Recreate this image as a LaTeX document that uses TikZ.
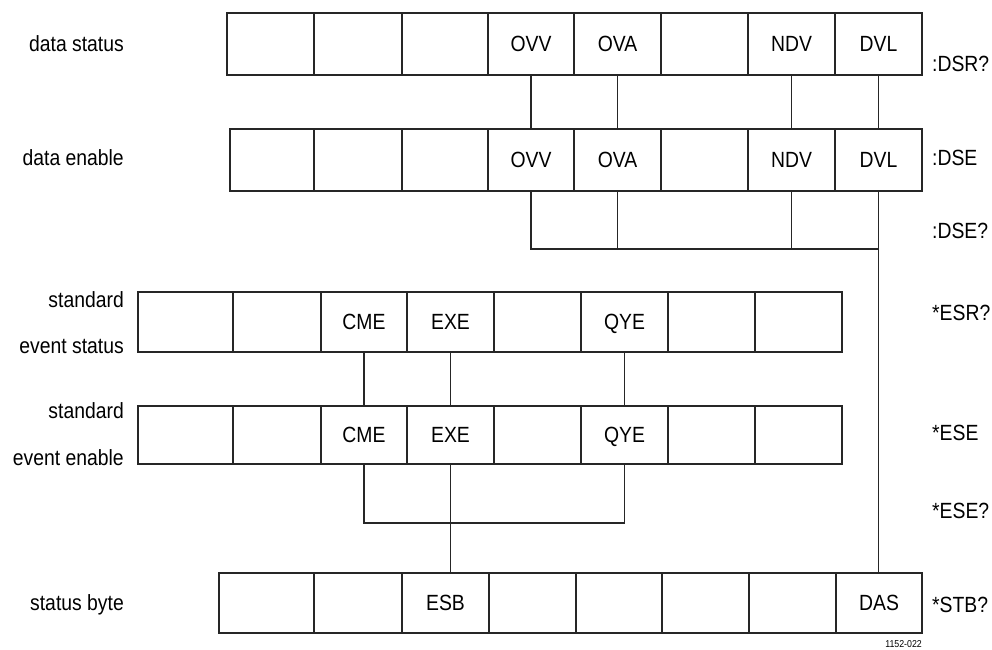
\documentclass[tikz,border=0pt]{standalone}
\usepackage{fontspec}
\setmainfont{Liberation Sans}[FakeStretch=0.88]
\begin{document}
\begin{tikzpicture}[x=1pt,y=-1pt,
  cell/.style={draw=black!85, line width=2.2pt, inner sep=0pt, outer sep=0pt,
    font=\fontsize{22}{24}\selectfont, text height=15.7pt, text depth=0pt},
  link/.style={draw=black!85, line width=1.2pt},
  lbl/.style={font=\fontsize{22}{24}\selectfont, inner sep=0pt, anchor=base east},
  cmd/.style={font=\fontsize{22}{24}\selectfont, inner sep=0pt, anchor=base west},
  tiny/.style={font=\fontsize{10}{12}\selectfont, inner sep=0pt, anchor=base east}]
\useasboundingbox (0,0) rectangle (992,649);

% register 1: data status
\foreach \a/\b/\t [count=\i] in {227/314/{},314/402/{},402/488/{},488/574/OVV,574/661/OVA,661/748/{},748/835/NDV,835/922/DVL}
  \node[cell, minimum width={\b-\a}, minimum height=62] (r1c\i) at ({(\a+\b)/2},44) {\t};
% register 2: data enable
\foreach \a/\b/\t [count=\i] in {230/314/{},314/402/{},402/488/{},488/574/OVV,574/661/OVA,661/748/{},748/835/NDV,835/922/DVL}
  \node[cell, minimum width={\b-\a}, minimum height=62] (r2c\i) at ({(\a+\b)/2},160) {\t};
% register 3: standard event status
\foreach \a/\b/\t [count=\i] in {138/233/{},233/321/{},321/407/CME,407/494/EXE,494/581/{},581/668/QYE,668/755/{},755/842/{}}
  \node[cell, minimum width={\b-\a}, minimum height=60] (r3c\i) at ({(\a+\b)/2},322) {\t};
% register 4: standard event enable
\foreach \a/\b/\t [count=\i] in {138/233/{},233/321/{},321/407/CME,407/494/EXE,494/581/{},581/668/QYE,668/755/{},755/842/{}}
  \node[cell, minimum width={\b-\a}, minimum height=58] (r4c\i) at ({(\a+\b)/2},435) {\t};
% register 5: status byte
\foreach \a/\b/\t [count=\i] in {219/314/{},314/402/{},402/489/ESB,489/576/{},576/662/{},662/749/{},749/836/{},836/922/DAS}
  \node[cell, minimum width={\b-\a}, minimum height=60] (r5c\i) at ({(\a+\b)/2},603) {\t};

% left labels
\node[lbl] (l1) at (124,51) {data status};
\node[lbl] (l2) at (124,165) {data enable};
\node[lbl] (l3a) at (124,307) {standard};
\node[lbl] (l3b) at (124,353) {event status};
\node[lbl] (l4a) at (124,418) {standard};
\node[lbl] (l4b) at (124,465) {event enable};
\node[lbl] (l5) at (124,610) {status byte};

% right command labels
\node[cmd] (c1) at (932,71) {:DSR?};
\node[cmd] (c2) at (932,165) {:DSE};
\node[cmd] (c3) at (932,238) {:DSE?};
\node[cmd] (c4) at (932,320) {*ESR?};
\node[cmd] (c5) at (932,440) {*ESE};
\node[cmd] (c6) at (932,518) {*ESE?};
\node[cmd] (c7) at (932,612) {*STB?};
\node[tiny] (fig) at (922,647) {1152-022};

% data status -> data enable
\foreach \i in {4,5,7,8}
  \draw[link] (r1c\i.south) -- (r1c\i.south |- r2c\i.north);
% data enable summary
\coordinate (dj) at (0,249);
\draw[link] (r2c4.south) |- (dj -| r2c8.south);
\draw[link] (r2c5.south) -- (r2c5.south |- dj);
\draw[link] (r2c7.south) -- (r2c7.south |- dj);
\draw[link] (r2c8.south) -- (r2c8.south |- r5c8.north);

% event status -> event enable
\foreach \i in {3,4,6}
  \draw[link] (r3c\i.south) -- (r3c\i.south |- r4c\i.north);
% event enable summary
\coordinate (ej) at (0,523);
\draw[link] (r4c3.south) |- (ej -| r4c6.south) -- (r4c6.south);
\draw[link] (r4c4.south) -- (r4c4.south |- r5c3.north);
\end{tikzpicture}
\end{document}
